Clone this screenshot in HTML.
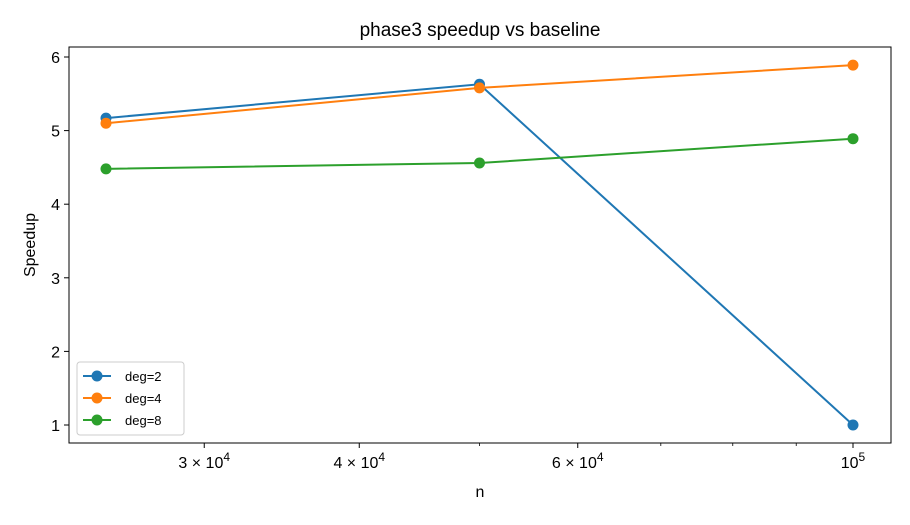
<!DOCTYPE html>
<html><head><meta charset="utf-8"><style>
body{margin:0;background:#fff;}
svg text{font-family:"Liberation Sans","DejaVu Sans",sans-serif;fill:#000;}
</style></head><body>
<svg id="chart" width="910" height="520" xmlns="http://www.w3.org/2000/svg">
<rect width="910" height="520" fill="#fff"/>
<text x="480" y="36" font-size="19" text-anchor="middle">phase3 speedup vs baseline</text>
<g id="plot"></g>
<text x="480" y="497" font-size="16" text-anchor="middle">n</text>
<text transform="translate(35,245) rotate(-90)" font-size="16" text-anchor="middle">Speedup</text>
</svg>
<script>
const categories=[25000,50000,100000];
const seriesNames=["deg=2","deg=4","deg=8"];
const deg2=[5.17,5.63,1.0];
const deg4=[5.10,5.58,5.89];
const deg8=[4.48,4.56,4.89];
const yTicks=[1,2,3,4,5,6];
const xMajor=[30000,40000,60000,100000];
const xMajorLabels=["3","4","6",""];
const xMinor=[50000,70000,80000,90000];
const colors=["#1f77b4","#ff7f0e","#2ca02c"];
const L=69,R=891,T=47,B=443;
const NS="http://www.w3.org/2000/svg";
function xs(v){return 106+Math.log2(v/25000)*373.5;}
function ys(v){return 425-(v-1)*73.6;}
const g=document.getElementById('plot');
function mk(tag,attrs,parent){const e=document.createElementNS(NS,tag);for(const k in attrs)e.setAttribute(k,attrs[k]);(parent||g).appendChild(e);return e;}
yTicks.forEach(v=>{
 const y=ys(v);
 const t=mk('line',{x1:L-5,x2:L,y1:y,y2:y,stroke:'#000','stroke-width':1});
 
 
 const tx=mk('text',{x:L-9,y:y+6,'font-size':16,'text-anchor':'end'});
 tx.textContent=v;
 
 
});
xMajor.forEach((v,i)=>{
 const x=xs(v);
 const t=mk('line',{x1:x,x2:x,y1:B,y2:B+5,stroke:'#000','stroke-width':1});
 
 
 const tx=mk('text',{x:x,y:B+25,'font-size':16,'text-anchor':'middle'});
 
 
 if(xMajorLabels[i]){
  tx.innerHTML=xMajorLabels[i]+' \u00D7 10<tspan dy="-7" font-size="12">4</tspan>';
 } else {
  tx.innerHTML='10<tspan dy="-7" font-size="12">5</tspan>';
 }
});
xMinor.forEach(v=>{
 const x=xs(v);
 const t=mk('line',{x1:x,x2:x,y1:B,y2:B+3,stroke:'#000','stroke-width':0.8});
 
 
});
[deg2,deg4,deg8].forEach((s,si)=>{
 const pts=s.map((v,i)=>xs(categories[i])+','+ys(v)).join(' ');
 const pl=mk('polyline',{points:pts,fill:'none',stroke:colors[si],'stroke-width':2});
 
 
 s.forEach((v,i)=>{
  const c=mk('circle',{cx:xs(categories[i]),cy:ys(v),r:5.5,fill:colors[si]});
  
  
 });
});
const fr=mk('rect',{x:L,y:T,width:R-L,height:B-T,fill:'none',stroke:'#000','stroke-width':1});


const lg=mk('g',{});


mk('rect',{x:77,y:362,width:107,height:73,rx:3,fill:'#fff',stroke:'#ccc','stroke-width':1},lg);
seriesNames.forEach((n,i)=>{
 const y=376+i*22;
 const e=mk('g',{},lg);
 
 
 mk('line',{x1:83,x2:111,y1:y,y2:y,stroke:colors[i],'stroke-width':2},e);
 mk('circle',{cx:97,cy:y,r:5.5,fill:colors[i]},e);
 const t=mk('text',{x:125,y:y+5,'font-size':13},e);
 t.textContent=n;
});
</script>
</body></html>
